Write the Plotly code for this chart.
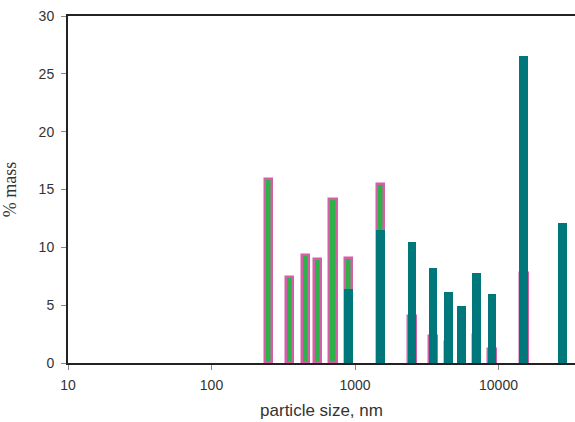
import numpy as np
import plotly.graph_objects as go

# Particle size classes (nm) and % mass for the two size distributions
sizes_a = [250, 350, 450, 550, 700, 900, 1500, 2500, 3500, 4500, 7000, 9000, 15000]
mass_a = [15.9, 7.4, 9.3, 9.0, 14.2, 9.1, 15.5, 4.1, 2.3, 1.8, 2.4, 1.2, 7.8]

sizes_b = [900, 1500, 2500, 3500, 4500, 5500, 7000, 9000, 15000, 27800]
mass_b = [6.4, 11.5, 10.5, 8.2, 6.1, 4.9, 7.8, 6.0, 26.5, 12.1]

x_tick_vals = [10, 100, 1000, 10000]
x_tick_text = ["10", "100", "1000", "10000"]
y_tick_vals = [0, 5, 10, 15, 20, 25, 30]

# bars are placed on a log10 scale so every bar keeps the same on-screen width
fig = go.Figure()
fig.add_trace(go.Bar(
    x=np.log10(sizes_a), y=mass_a, width=0.052,
    marker=dict(color="#2DB24A", line=dict(color="#D45EA8", width=2.5)),
    showlegend=False,
))
fig.add_trace(go.Bar(
    x=np.log10(sizes_b), y=mass_b, width=0.06,
    marker=dict(color="#00777B", line=dict(width=0)),
    showlegend=False,
))

fig.update_layout(
    width=575, height=422,
    margin=dict(l=68, r=0, t=16, b=59),
    paper_bgcolor="white", plot_bgcolor="white",
    barmode="overlay", bargap=0,
    font=dict(family="Liberation Sans, Arial, sans-serif", size=14, color="#333333"),
    xaxis=dict(
        range=[1, 1 + (575 - 68) / 143.5],
        tickvals=np.log10(x_tick_vals), ticktext=x_tick_text,
        showgrid=False, zeroline=False,
        showline=True, linecolor="#222222", linewidth=2, mirror=True,
        ticks="outside", ticklen=5, tickcolor="#888888", tickwidth=1,
        ticklabelstandoff=3,
        title=dict(text="particle size, nm", font=dict(size=17, color="#333333"), standoff=12),
    ),
    yaxis=dict(
        range=[0, 30], tickvals=y_tick_vals,
        showgrid=False, zeroline=False,
        showline=True, linecolor="#222222", linewidth=2, mirror=False,
        ticks="outside", ticklen=5, tickcolor="#888888", tickwidth=1,
        ticklabelstandoff=4,
        title=dict(text="% mass", font=dict(family="Liberation Serif, Times New Roman, serif", size=18, color="#333333"), standoff=18),
    ),
)

fig.write_html("out.html")
